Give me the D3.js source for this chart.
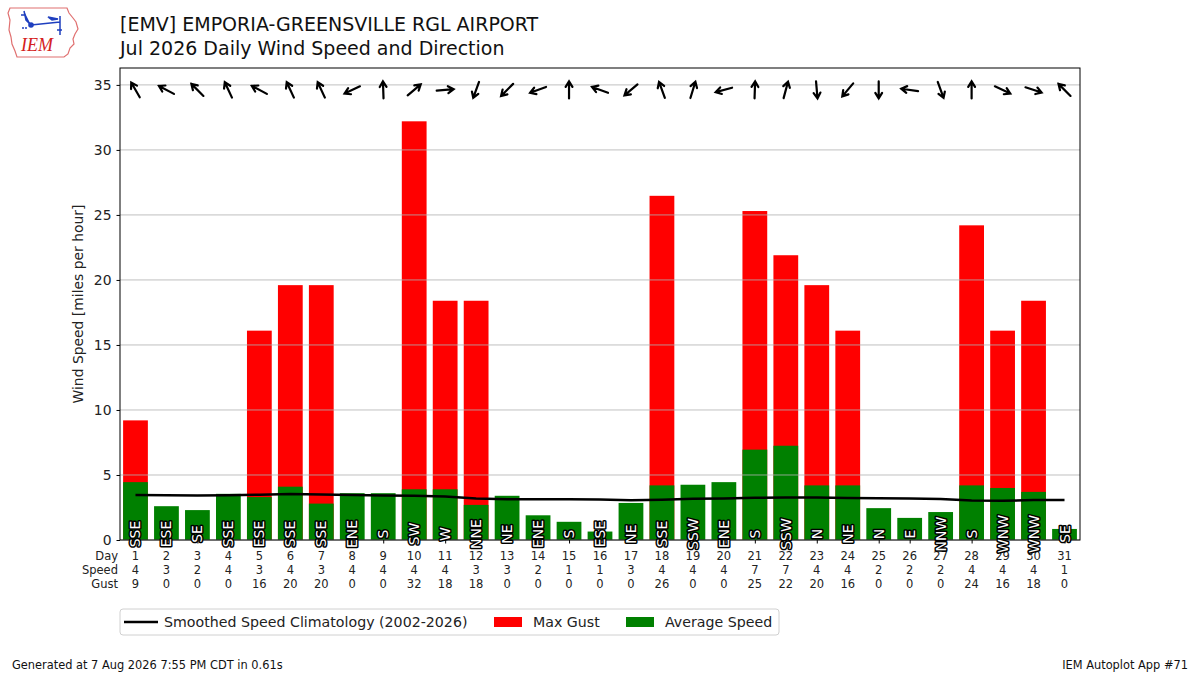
<!DOCTYPE html>
<html>
<head>
<meta charset="utf-8">
<script src="https://cdn.jsdelivr.net/npm/d3@7"></script>
<style>
  body { margin: 0; background: #fff; }
  text { font-family: "DejaVu Sans", sans-serif; }
</style>
</head>
<body>
<svg width="1200" height="675"></svg>
<script>
// daily values for July 2026
var days = d3.range(1, 32);
var avgSpeed = [4.45, 2.6, 2.3, 3.55, 3.3, 4.1, 2.8, 3.6, 3.6, 3.9, 3.9, 2.7, 3.4, 1.9, 1.4, 0.65,
    2.85, 4.2, 4.25, 4.45, 6.95, 7.25, 4.2, 4.2, 2.45, 1.7, 2.15, 4.2, 4.0, 3.7, 0.85];
var maxGust = [9.2, 0, 0, 0, 16.1, 19.6, 19.6, 0, 0, 32.2, 18.4, 18.4, 0, 0, 0, 0,
    0, 26.47, 0, 0, 25.3, 21.9, 19.6, 16.1, 0, 0, 0, 24.2, 16.1, 18.4, 0];
var windDir = [150, 118, 135, 155, 118, 155, 155, 65, 178, 230, 265, 20, 45, 70, 180, 110,
    50, 160, 197, 75, 182, 195, 355, 40, 0, 98, 340, 180, 295, 288, 135];
var climo = [3.46, 3.45, 3.43, 3.44, 3.48, 3.53, 3.50, 3.46, 3.43, 3.40, 3.35, 3.20, 3.14, 3.13, 3.13, 3.12,
    3.06, 3.09, 3.17, 3.20, 3.25, 3.27, 3.26, 3.23, 3.22, 3.20, 3.15, 3.04, 3.01, 3.07, 3.08];
var compass = ["N", "NNE", "NE", "ENE", "E", "ESE", "SE", "SSE", "S", "SSW", "SW", "WSW", "W", "WNW", "NW", "NNW"];
var yTicks = [0, 5, 10, 15, 20, 25, 30, 35];
var rowLabels = ["Day", "Speed", "Gust"];

var data = days.map(function (d, i) {
    return { day: d, avg: avgSpeed[i], gust: maxGust[i], dir: windDir[i], climo: climo[i] };
});

var svg = d3.select("svg"),
    margin = { top: 68, right: 120, bottom: 135, left: 120 },
    width = +svg.attr("width") - margin.left - margin.right,
    height = +svg.attr("height") - margin.top - margin.bottom,
    g = svg.append("g").attr("transform", "translate(" + margin.left + "," + margin.top + ")");

var x = d3.scaleLinear().domain([0.5, 31.5]).range([0, width]);
var y = d3.scaleLinear().domain([0, 36.3]).range([height, 0]);
var barW = x(0.9) - x(0.1);

// bars: gust underneath, average on top
g.append("g").selectAll("rect")
    .data(data)
    .enter().append("rect")
    .attr("x", function (d) { return x(d.day) - barW / 2; })
    .attr("y", function (d) { return y(d.gust); })
    .attr("width", barW)
    .attr("height", function (d) { return height - y(d.gust); })
    .attr("fill", "#ff0000");

g.append("g").selectAll("rect")
    .data(data)
    .enter().append("rect")
    .attr("x", function (d) { return x(d.day) - barW / 2; })
    .attr("y", function (d) { return y(d.avg); })
    .attr("width", barW)
    .attr("height", function (d) { return height - y(d.avg); })
    .attr("fill", "#008000");

// grid on top of bars like matplotlib
g.append("g").selectAll("line")
    .data(yTicks)
    .enter().append("line")
    .attr("x1", 0).attr("x2", width)
    .attr("y1", function (d) { return y(d); })
    .attr("y2", function (d) { return y(d); })
    .attr("stroke", "#b0b0b0")
    .attr("stroke-width", 0.8);

// climatology line
g.append("path")
    .datum(data)
    .attr("fill", "none")
    .attr("stroke", "#000")
    .attr("stroke-width", 2.5)
    .attr("d", d3.line()
        .x(function (d) { return x(d.day); })
        .y(function (d) { return y(d.climo); }));

// y axis
var yAxis = g.append("g")
    .call(d3.axisLeft(y).tickValues(yTicks).tickSize(3.5).tickPadding(5));
yAxis.select(".domain").remove();
yAxis.selectAll("text").attr("font-size", 13.9).attr("fill", "#222").style("font-family", "DejaVu Sans");
yAxis.selectAll("line").attr("stroke", "#000");

// x axis with three line labels
var xAxis = g.append("g")
    .attr("transform", "translate(0," + height + ")")
    .call(d3.axisBottom(x).tickValues(days).tickSize(3.5).tickFormat(""));
xAxis.select(".domain").remove();
xAxis.selectAll("line").attr("stroke", "#000");

var lab = g.append("g").attr("font-size", 11.5).attr("fill", "#222").attr("text-anchor", "middle");
data.forEach(function (d) {
    var rows = [d.day, Math.round(d.avg), Math.round(d.gust)];
    rows.forEach(function (r, k) {
        lab.append("text")
            .attr("x", x(d.day))
            .attr("y", height + 19.5 + k * 14)
            .text(r);
    });
});
rowLabels.forEach(function (r, k) {
    lab.append("text")
        .attr("x", -2)
        .attr("y", height + 19.5 + k * 14)
        .attr("text-anchor", "end")
        .text(r);
});

// frame
g.append("rect")
    .attr("width", width).attr("height", height)
    .attr("fill", "none").attr("stroke", "#000").attr("stroke-width", 1);

// direction arrows along the top
var arrowLen = 17, cy = y(35) + 5;
var arrows = g.append("g").attr("stroke", "#000").attr("stroke-width", 2.2).attr("fill", "none")
    .attr("stroke-linecap", "round");
data.forEach(function (d) {
    var b = (d.dir + 180) * Math.PI / 180;
    var dx = Math.sin(b), dy = -Math.cos(b);
    var cx = x(d.day);
    var hx = cx + dx * arrowLen / 2, hy = cy + dy * arrowLen / 2;
    var tx = cx - dx * arrowLen / 2, ty = cy - dy * arrowLen / 2;
    var a = 0.55, hl = 6.5;
    var p1 = [hx - hl * (dx * Math.cos(a) - dy * Math.sin(a)), hy - hl * (dy * Math.cos(a) + dx * Math.sin(a))];
    var p2 = [hx - hl * (dx * Math.cos(a) + dy * Math.sin(a)), hy - hl * (dy * Math.cos(a) - dx * Math.sin(a))];
    arrows.append("path")
        .attr("d", "M" + tx + "," + ty + "L" + hx + "," + hy +
            "M" + p1[0] + "," + p1[1] + "L" + hx + "," + hy + "L" + p2[0] + "," + p2[1]);
});

// direction labels in the bars
g.append("g").selectAll("text")
    .data(data)
    .enter().append("text")
    .attr("transform", function (d) { return "translate(" + x(d.day) + "," + (height - 6) + ") rotate(-90)"; })
    .attr("text-anchor", "middle")
    .attr("dominant-baseline", "central")
    .attr("font-size", 14)
    .attr("fill", "#fff")
    .attr("stroke", "#000")
    .attr("stroke-width", 3)
    .attr("paint-order", "stroke")
    .attr("stroke-linejoin", "round")
    .text(function (d) { return compass[Math.round(d.dir / 22.5) % 16]; });

// y label
svg.append("text")
    .attr("transform", "translate(83," + (margin.top + height / 2) + ") rotate(-90)")
    .attr("text-anchor", "middle")
    .attr("font-size", 13.9)
    .attr("fill", "#222")
    .text("Wind Speed [miles per hour]");

// titles
svg.append("text").attr("x", 120).attr("y", 31).attr("font-size", 19).attr("fill", "#111")
    .text("[EMV] EMPORIA-GREENSVILLE RGL AIRPORT");
svg.append("text").attr("x", 120).attr("y", 55).attr("font-size", 19).attr("fill", "#111")
    .text("Jul 2026 Daily Wind Speed and Direction");

// legend
var leg = svg.append("g").attr("transform", "translate(120,609)");
leg.append("rect").attr("width", 659).attr("height", 26).attr("rx", 3)
    .attr("fill", "#fff").attr("stroke", "#d0d0d0");
leg.append("line").attr("x1", 4).attr("x2", 38).attr("y1", 13).attr("y2", 13)
    .attr("stroke", "#000").attr("stroke-width", 2.5);
leg.append("text").attr("x", 44).attr("y", 18).attr("font-size", 14.2).attr("fill", "#222")
    .text("Smoothed Speed Climatology (2002-2026)");
leg.append("rect").attr("x", 374).attr("y", 8).attr("width", 28).attr("height", 10).attr("fill", "#ff0000");
leg.append("text").attr("x", 413).attr("y", 18).attr("font-size", 14.2).attr("fill", "#222").text("Max Gust");
leg.append("rect").attr("x", 506).attr("y", 8).attr("width", 28).attr("height", 10).attr("fill", "#008000");
leg.append("text").attr("x", 545).attr("y", 18).attr("font-size", 14.2).attr("fill", "#222").text("Average Speed");

// footer
svg.append("text").attr("x", 12).attr("y", 669).attr("font-size", 11.4).attr("fill", "#111")
    .text("Generated at 7 Aug 2026 7:55 PM CDT in 0.61s");
svg.append("text").attr("x", 1188).attr("y", 669).attr("font-size", 11.4).attr("fill", "#111")
    .attr("text-anchor", "end").text("IEM Autoplot App #71");

// IEM logo
var logo = svg.append("g");
logo.append("path")
    .attr("d", "M10,8 L67,8 L69,13 L73,18 L76,22 L78,29 L75,34 L73,39 L74,44 L70,48 L68,54 L64,57 L17,57 L15,51 L12,44 L11,37 L9,30 L10,20 L8,13 Z")
    .attr("fill", "#fff").attr("stroke", "#e07070").attr("stroke-width", 1.2);
logo.append("path")
    .attr("d", "M31,25 L60,22 M60,16 L60,35 M57,30 L62,30 M48,17 L58,19 L52,20 Z M24,11 L26,20 L31,25 M21,15 L25,15")
    .attr("fill", "#1f3fbf").attr("stroke", "#1f3fbf").attr("stroke-width", 1.5);
logo.append("circle").attr("cx", 31).attr("cy", 25).attr("r", 2.8).attr("fill", "#1f3fbf");
logo.append("circle").attr("cx", 23).attr("cy", 28).attr("r", 1).attr("fill", "#1f3fbf");
logo.append("circle").attr("cx", 26).attr("cy", 28).attr("r", 1).attr("fill", "#1f3fbf");
logo.append("text").attr("x", 21).attr("y", 51).attr("font-size", 18)
    .attr("font-style", "italic").attr("fill", "#d42020")
    .style("font-family", "Liberation Serif, serif").text("IEM");
</script>
</body>
</html>
